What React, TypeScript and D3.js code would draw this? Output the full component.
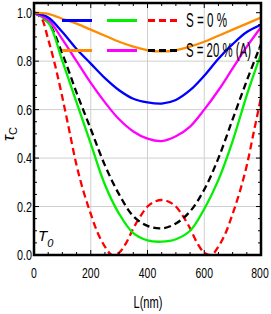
import React from 'react'
import * as d3 from 'd3'

// L (nm) sample positions
const L50 = [0, 50, 100, 150, 200, 250, 300, 350, 400, 450, 500, 550, 600, 650, 700, 750, 800]
const L25 = [0, 25, 50, 75, 100, 125, 150, 175, 200, 225, 250, 275, 300, 325, 350, 375, 400,
  425, 450, 475, 500, 525, 550, 575, 600, 625, 650, 675, 700, 725, 750, 775, 800]

// S = 20 % (A)
const orange = [1.0, 0.995, 0.975, 0.955, 0.93, 0.905, 0.88, 0.86, 0.845, 0.84, 0.845, 0.86, 0.88, 0.905, 0.93, 0.955, 0.98]
const magenta = [1.0, 0.97, 0.89, 0.8, 0.71, 0.63, 0.56, 0.51, 0.48, 0.47, 0.49, 0.53, 0.6, 0.68, 0.77, 0.86, 0.94]
const black = [1.0, 0.96, 0.83, 0.67, 0.52, 0.37, 0.25, 0.16, 0.12, 0.11, 0.13, 0.18, 0.27, 0.4, 0.56, 0.72, 0.87]
// S = 0 %
const blue = [1.0, 0.98, 0.92, 0.85, 0.79, 0.73, 0.68, 0.645, 0.63, 0.625, 0.64, 0.68, 0.74, 0.81, 0.87, 0.92, 0.95]
const green = [1.0, 0.96, 0.8, 0.63, 0.46, 0.29, 0.17, 0.09, 0.06, 0.055, 0.065, 0.1, 0.19, 0.31, 0.47, 0.66, 0.83]
const red = [1.0, 0.98, 0.89, 0.78, 0.65, 0.51, 0.37, 0.26, 0.17, 0.09, 0.035, 0.0, 0.01, 0.05, 0.11, 0.16, 0.2,
  0.22, 0.227, 0.22, 0.2, 0.16, 0.11, 0.05, 0.01, 0.0, 0.035, 0.09, 0.17, 0.26, 0.37, 0.51, 0.65]

const xTicks = [0, 200, 400, 600, 800]
const yTicks = [0, 0.2, 0.4, 0.6, 0.8, 1.0]

const W = 271
const H = 314

export default function App() {
  const x = d3.scaleLinear().domain([0, 800]).range([34, 261])
  const y = d3.scaleLinear().domain([0, 1.04]).range([255, 3])

  const line = (xs: number[], ys: number[]) =>
    d3.line<number>()
      .x((d, i) => x(xs[i]))
      .y(d => y(d))
      .curve(d3.curveCatmullRom.alpha(0.5))(ys) || ''

  const series = [
    { xs: L25, ys: red, color: '#ff0000', dash: '7,4' },
    { xs: L50, ys: black, color: '#000000', dash: '7,4' },
    { xs: L50, ys: green, color: '#00f000', dash: null },
    { xs: L50, ys: magenta, color: '#ff00ff', dash: null },
    { xs: L50, ys: blue, color: '#0000ff', dash: null },
    { xs: L50, ys: orange, color: '#ff8c00', dash: null },
  ]

  const legendRows = [
    { yy: 20.5, label: 'S = 0 %', len: 41, items: [['#0000ff', null], ['#00f000', null], ['#ff0000', '7,4']] },
    { yy: 50.5, label: 'S = 20 % (A)', len: 65, items: [['#ff8c00', null], ['#ff00ff', null], ['#000000', '7,4']] },
  ]
  const legendX = [[62, 92], [107, 137], [148, 178]]

  const [x0, x1] = x.range()
  const [y0, y1] = y.range()
  const minorX = d3.range(0, 801, 50)
  const minorY = d3.range(0, 1.001, 0.05)
  const font = '"Liberation Sans", Arial, sans-serif'

  return (
    <svg width={W} height={H} style={{ position: 'absolute', left: 0, top: 0, background: '#fff' }}>
      <defs>
        <clipPath id="plot">
          <rect x={x0} y={y1} width={x1 - x0} height={y0 - y1} />
        </clipPath>
      </defs>

      {/* grid */}
      {xTicks.slice(1, -1).map(t => (
        <line key={'gx' + t} x1={x(t)} x2={x(t)} y1={y0} y2={y1} stroke="#cfcfcf" strokeWidth={1} />
      ))}
      {yTicks.slice(1, -1).map(t => (
        <line key={'gy' + t} x1={x0} x2={x1} y1={y(t)} y2={y(t)} stroke="#cfcfcf" strokeWidth={1} />
      ))}

      {/* curves */}
      <g clipPath="url(#plot)">
        {series.map((s, i) => (
          <path key={i} d={line(s.xs, s.ys)} fill="none" stroke={s.color} strokeWidth={2.3}
            strokeDasharray={s.dash || undefined} />
        ))}
      </g>

      {/* legend */}
      {legendRows.map((r, ri) => (
        <g key={'lg' + ri}>
          {r.items.map(([c, dash], k) => (
            <line key={k} x1={legendX[k][0]} x2={legendX[k][1]} y1={r.yy} y2={r.yy}
              stroke={c as string} strokeWidth={3} strokeDasharray={(dash as string) || undefined} />
          ))}
          <text x={186} y={r.yy + 6.5} fontFamily={font} fontSize={21} textLength={r.len}
            lengthAdjust="spacingAndGlyphs" fill="#000">{r.label}</text>
        </g>
      ))}

      {/* frame ticks */}
      {minorX.map(t => {
        const len = t % 200 === 0 ? 5 : 3
        return (
          <g key={'tx' + t}>
            <line x1={x(t)} x2={x(t)} y1={y0} y2={y0 - len} stroke="#000" strokeWidth={1} />
            <line x1={x(t)} x2={x(t)} y1={y1} y2={y1 + len} stroke="#000" strokeWidth={1} />
          </g>
        )
      })}
      {minorY.map(t => {
        const major = Math.abs(Math.round(t * 5) - t * 5) < 1e-6
        const len = major ? 5 : 3
        return (
          <g key={'ty' + t}>
            <line x1={x0} x2={x0 + len} y1={y(t)} y2={y(t)} stroke="#000" strokeWidth={1} />
            <line x1={x1} x2={x1 - len} y1={y(t)} y2={y(t)} stroke="#000" strokeWidth={1} />
          </g>
        )
      })}
      <rect x={x0} y={y1} width={x1 - x0} height={y0 - y1} fill="none" stroke="#000" strokeWidth={2.5} />

      {/* tick labels */}
      {xTicks.map(t => {
        const s = String(t)
        return (
          <text key={'lx' + t} x={Math.min(x(t), 260)} y={278} fontFamily={font} fontSize={15} textAnchor="middle"
            textLength={s.length * 5.8} lengthAdjust="spacingAndGlyphs">{s}</text>
        )
      })}
      {yTicks.map(t => (
        <text key={'ly' + t} x={32} y={y(t) + 5} fontFamily={font} fontSize={15} textAnchor="end"
          textLength={15} lengthAdjust="spacingAndGlyphs">{t.toFixed(1)}</text>
      ))}

      {/* axis titles */}
      <text x={148} y={308} fontFamily={font} fontSize={16} textAnchor="middle"
        textLength={29} lengthAdjust="spacingAndGlyphs">L(nm)</text>
      <text transform="translate(14,134) rotate(-90)" fontFamily={font} fontSize={16} textAnchor="middle"
        fontStyle="italic">
        τ<tspan fontSize={11} dy={3} fontStyle="normal">C</tspan>
      </text>
      <text x={38} y={241} fontFamily={font} fontSize={15} fontStyle="italic">
        T<tspan fontSize={11} dy={6}>0</tspan>
      </text>
    </svg>
  )
}
